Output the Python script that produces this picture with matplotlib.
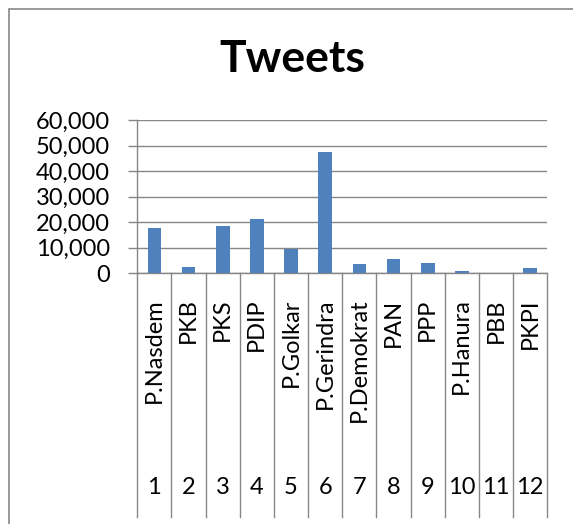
import matplotlib
matplotlib.use('Agg')
import matplotlib.pyplot as plt
from matplotlib.patches import Rectangle
from matplotlib.ticker import StrMethodFormatter
import numpy as np

# data
numbers = ['1', '2', '3', '4', '5', '6', '7', '8', '9', '10', '11', '12']
parties = ['P.Nasdem', 'PKB', 'PKS', 'PDIP', 'P.Golkar', 'P.Gerindra',
           'P.Demokrat', 'PAN', 'PPP', 'P.Hanura', 'PBB', 'PKPI']
tweets = [17600, 2600, 18600, 21300, 9500, 47600,
          3600, 5600, 4000, 900, 0, 2000]

BLUE = '#4F81BD'
GRID = '#868686'

plt.rcParams['font.family'] = ['Lato', 'DejaVu Sans']

fig = plt.figure(figsize=(5.73, 5.24), dpi=100)
ax = fig.add_axes([0.2396, 0.4784, 0.9551 - 0.2396, 0.771 - 0.4784])

x = np.arange(len(parties))
ax.bar(x, tweets, width=0.4, color=BLUE, zorder=3)

ax.set_xlim(-0.5, len(parties) - 0.5)
ax.set_ylim(0, 60000)
ax.set_yticks(np.arange(0, 60001, 10000))
ax.yaxis.set_major_formatter(StrMethodFormatter('{x:,.0f}'))
ax.grid(axis='y', color=GRID, lw=1.0, zorder=0)
ax.tick_params(axis='y', length=6.5, width=1.0, color=GRID, pad=13,
               labelsize=17)
ax.set_xticks([])

for s in ['top', 'right']:
    ax.spines[s].set_visible(False)
for s in ['left', 'bottom']:
    ax.spines[s].set_color(GRID)
    ax.spines[s].set_linewidth(1.0)

# multi-level category axis: separators, names and numbers
trans = ax.get_xaxis_transform()
for k in range(len(parties) + 1):
    ax.plot([k - 0.5, k - 0.5], [0, -1.588], transform=trans, color=GRID,
            lw=1.0, clip_on=False)
for i in x:
    ax.text(i, -0.165, parties[i], rotation=90, ha='center', va='top',
            fontsize=17, transform=trans)
    ax.text(i, -1.40, numbers[i], ha='center', va='center',
            fontsize=17, transform=trans)

fig.text(0.51, 0.887, 'Tweets', ha='center', va='center',
         fontsize=32, fontweight='bold')

# outer chart border (cropped at right and bottom)
fig.patches.append(Rectangle((8.5 / 573, -0.1), 1.2, 1.1 - 9 / 524,
                             transform=fig.transFigure, fill=False,
                             edgecolor='#878787', lw=1.2))

fig.savefig('out.png', dpi=100)
